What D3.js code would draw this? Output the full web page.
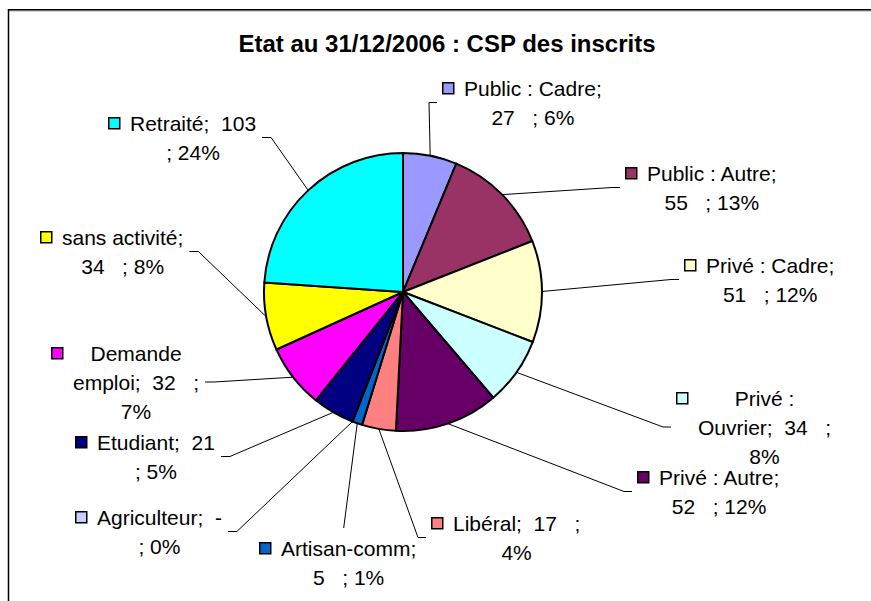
<!DOCTYPE html>
<html>
<head>
<meta charset="utf-8">
<script src="https://cdnjs.cloudflare.com/ajax/libs/d3/7.8.5/d3.min.js"></script>
<style>
  body { margin: 0; background: #fff; }
  svg text { font-family: "Liberation Sans", Arial, sans-serif; white-space: pre; }
</style>
</head>
<body>
<div id="chart"></div>
<script>
const chartTitle = 'Etat au 31/12/2006 : CSP des inscrits';

const categories = ['Public : Cadre', 'Public : Autre', 'Privé : Cadre', 'Privé : Ouvrier', 'Privé : Autre',
  'Libéral', 'Artisan-comm', 'Agriculteur', 'Etudiant', 'Demande emploi', 'sans activité', 'Retraité'];
const values = [27, 55, 51, 34, 52, 17, 5, 0, 21, 32, 34, 103];
const colours = ['#9999FF', '#993366', '#FFFFCC', '#CCFFFF', '#660066', '#FF8080',
  '#0066CC', '#CCCCFF', '#000080', '#FF00FF', '#FFFF00', '#00FFFF'];

// label boxes: marker left x, first line centre y, wrap width, where the leader meets the box
const labelLayout = [
  [442, 88, 150, 'l'],
  [625, 173, 145, 'l'],
  [684, 265, 150, 'l'],
  [676, 398, 136, 'l'],
  [637, 477, 145, 'l'],
  [431, 523, 135, 'l'],
  [259, 548, 145, 't'],
  [75, 517, 135, 'r'],
  [75, 442, 135, 'r'],
  [51, 353, 135, 'r'],
  [40, 237, 140, 'r'],
  [108, 123, 135, 'r'],
];

const w = 871;
const h = 601;
const cx = 403;
const cy = 292;
const radius = 139;
const lineH = 29;

const svg = d3.select('#chart')
  .append('svg')
  .attr('width', w)
  .attr('height', h);

// frame (only top and left show in the crop)
svg.append('line')
  .attr('x1', 8).attr('y1', 11).attr('x2', w).attr('y2', 11)
  .attr('stroke', '#aaa').attr('stroke-width', 1);
svg.append('path')
  .attr('d', `M8.5,${h} V9.75 H${w}`)
  .attr('fill', 'none')
  .attr('stroke', '#000')
  .attr('stroke-width', 1.5);

svg.append('text')
  .attr('x', 447)
  .attr('y', 52)
  .attr('text-anchor', 'middle')
  .attr('font-weight', 'bold')
  .attr('font-size', 24)
  .text(chartTitle);

const total = d3.sum(values);
const pct = d3.format('.0%');

const pie = d3.pie().sort(null).value((d) => d);
const arcs = pie(values);

const arc = d3.arc().innerRadius(0).outerRadius(radius);
const edge = d3.arc().innerRadius(radius).outerRadius(radius);

const measurer = svg.append('text').attr('font-size', 21).attr('opacity', 0);

function measure(str) {
  measurer.text(str);
  return measurer.node().getComputedTextLength();
}

function wrapLabel(str, maxW) {
  const parts = str.split(/(\s+)/);
  const lines = [];
  let cur = '';
  for (let i = 0; i < parts.length; i += 2) {
    const word = parts[i];
    const sep = i > 0 ? parts[i - 1] : '';
    if (cur && measure(cur + sep + word) > maxW) {
      lines.push(cur);
      cur = word;
    } else {
      cur = cur ? cur + sep + word : word;
    }
  }
  lines.push(cur);
  return lines;
}

const labels = categories.map((name, i) => {
  const v = values[i];
  const str = `${name};  ${v === 0 ? '-' : v}   ; ${pct(v / total)}`;
  const [mx, my, wrapW, side] = labelLayout[i];
  const lines = wrapLabel(str, wrapW);
  const widths = lines.map(measure);
  const blockW = d3.max(widths);
  const textLeft = mx + 22;
  const midY = my + (lines.length - 1) * lineH / 2;
  let pts;
  const start = edge.centroid(arcs[i]);
  const s = [cx + start[0], cy + start[1]];
  if (side === 'l') {
    const end = [mx - 5, midY];
    pts = [s, [end[0] - 8, midY], end];
  } else if (side === 'r') {
    const end = [textLeft + blockW + 6, midY];
    pts = [s, [end[0] + 9, midY], end];
  } else {
    pts = [s, [textLeft + blockW / 2 - 5, my - 20]];
  }
  return { name, lines, widths, blockW, textLeft, mx, my, pts, colour: colours[i] };
});
measurer.remove();

// leader lines
svg.append('g')
  .selectAll('path')
  .data(labels)
  .enter()
  .append('path')
  .attr('d', (d) => d3.line()(d.pts))
  .attr('fill', 'none')
  .attr('stroke', '#000')
  .attr('stroke-width', 1);

svg.append('g')
  .attr('transform', `translate(${cx},${cy})`)
  .selectAll('path')
  .data(arcs)
  .enter()
  .append('path')
  .attr('d', arc)
  .attr('fill', (d, i) => colours[i])
  .attr('stroke', '#000')
  .attr('stroke-width', 2)
  .attr('stroke-linejoin', 'round');

const labelG = svg.append('g')
  .selectAll('g')
  .data(labels)
  .enter()
  .append('g');

labelG.append('rect')
  .attr('x', (d) => d.mx + 0.75)
  .attr('y', (d) => d.my - 5.25)
  .attr('width', 11)
  .attr('height', 11)
  .attr('fill', (d) => d.colour)
  .attr('stroke', '#000')
  .attr('stroke-width', 1.5);

labelG.each(function (d) {
  const g = d3.select(this);
  d.lines.forEach((line, k) => {
    g.append('text')
      .attr('x', d.textLeft + d.blockW / 2)
      .attr('y', d.my + k * lineH + 7.5)
      .attr('text-anchor', 'middle')
      .attr('font-size', 21)
      .attr('fill', '#000')
      .text(line);
  });
});
</script>
</body>
</html>
